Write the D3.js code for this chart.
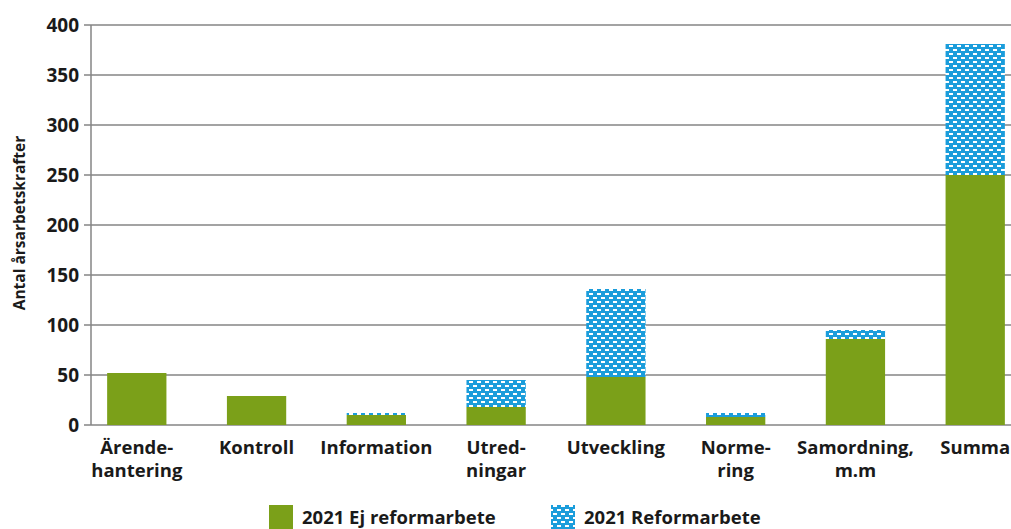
<!DOCTYPE html>
<html>
<head>
<meta charset="utf-8">
<script src="https://cdn.jsdelivr.net/npm/d3@7"></script>
<style>
  body { margin: 0; background: #fff; }
  svg { display: block; font-family: "Open Sans", "Noto Sans", sans-serif; }
</style>
</head>
<body>
<div class="chart-section"></div>
<script>
const categories = ["Ärende-\nhantering", "Kontroll", "Information", "Utred-\nningar", "Utveckling", "Norme-\nring", "Samordning,\nm.m", "Summa"];
const ejReform = [52, 29, 10, 18, 48, 8, 86, 250];
const reform = [0, 0, 2, 27, 88, 4, 9, 131];
const yTicks = [0, 50, 100, 150, 200, 250, 300, 350, 400];
const seriesNames = ["2021 Ej reformarbete", "2021 Reformarbete"];

const width = 1011;
const height = 529;
const green = "#7ba019";
const blue = "#1b9ddb";

const svg = d3
  .select(".chart-section")
  .append("svg")
  .attr("width", width)
  .attr("height", height);

// pattern for reform bars
const defs = svg.append("defs");
const pat = defs
  .append("pattern")
  .attr("id", "dots")
  .attr("patternUnits", "userSpaceOnUse")
  .attr("width", 8)
  .attr("height", 8);
pat.append("rect").attr("width", 8).attr("height", 8).attr("fill", blue);
pat.append("rect").attr("x", 1).attr("y", 1).attr("width", 4).attr("height", 2).attr("fill", "#fff");
pat.append("rect").attr("x", 5).attr("y", 5).attr("width", 4).attr("height", 2).attr("fill", "#fff");
pat.append("rect").attr("x", -3).attr("y", 5).attr("width", 4).attr("height", 2).attr("fill", "#fff");

const y = d3.scaleLinear().domain([0, 400]).range([425, 25]);
const x = d3
  .scaleBand()
  .domain(categories)
  .range([76, 1036])
  .paddingInner(0.505)
  .paddingOuter(0.26);

// grid
svg
  .append("g")
  .selectAll("line")
  .data(yTicks)
  .join("line")
  .attr("x1", 84)
  .attr("x2", width)
  .attr("y1", (d) => y(d))
  .attr("y2", (d) => y(d))
  .attr("stroke", "#858585")
  .attr("stroke-width", 1.5);

// axis vertical
svg
  .append("line")
  .attr("x1", 91)
  .attr("x2", 91)
  .attr("y1", y(400))
  .attr("y2", y(0))
  .attr("stroke", "#858585")
  .attr("stroke-width", 1.5);

svg
  .append("g")
  .selectAll("text")
  .data(yTicks)
  .join("text")
  .attr("x", 79)
  .attr("y", (d) => y(d) + 6.5)
  .attr("text-anchor", "end")
  .attr("font-size", 19)
  .attr("font-weight", "bold")
  .attr("fill", "#1a1a1a")
  .text((d) => d);

svg
  .append("text")
  .attr("transform", `translate(25, 223) rotate(-90)`)
  .attr("text-anchor", "middle")
  .attr("font-size", 15.5)
  .attr("font-weight", "bold")
  .attr("fill", "#1a1a1a")
  .text("Antal årsarbetskrafter");

// bars
const bars = svg
  .append("g")
  .selectAll("g")
  .data(categories)
  .join("g");

bars
  .append("rect")
  .attr("x", (d) => x(d))
  .attr("width", x.bandwidth())
  .attr("y", (d, i) => y(ejReform[i]))
  .attr("height", (d, i) => y(0) - y(ejReform[i]))
  .attr("fill", green);

bars
  .append("rect")
  .attr("x", (d) => x(d))
  .attr("width", x.bandwidth())
  .attr("y", (d, i) => y(ejReform[i] + reform[i]))
  .attr("height", (d, i) => y(0) - y(reform[i]))
  .attr("fill", "url(#dots)");

// x labels
const xl = svg
  .append("g")
  .selectAll("text")
  .data(categories)
  .join("text")
  .attr("text-anchor", "middle")
  .attr("font-size", 18.5)
  .attr("font-weight", "bold")
  .attr("fill", "#1a1a1a");

xl.selectAll("tspan")
  .data((d) => d.split("\n").map((t) => ({ t, c: d })))
  .join("tspan")
  .attr("x", (d) => x(d.c) + x.bandwidth() / 2)
  .attr("y", (d, i) => 454 + i * 23)
  .text((d) => d.t);

// legend
const legend = svg.append("g");
const legendX = [269, 551];
seriesNames.forEach((name, i) => {
  legend
    .append("rect")
    .attr("x", legendX[i])
    .attr("y", 505)
    .attr("width", 24)
    .attr("height", 24)
    .attr("fill", i === 0 ? green : "url(#dots)");
  legend
    .append("text")
    .attr("x", legendX[i] + 33)
    .attr("y", 524)
    .attr("font-size", 18.5)
    .attr("font-weight", "bold")
    .attr("fill", "#1a1a1a")
    .text(name);
});
</script>
</body>
</html>
